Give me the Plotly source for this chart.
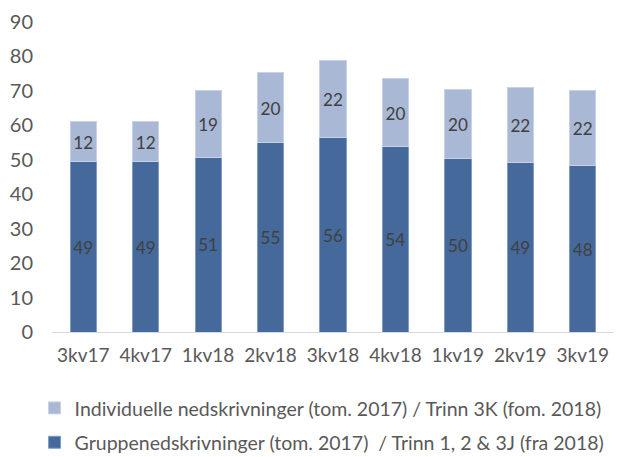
import plotly.graph_objects as go

quarters = ["3kv17", "4kv17", "1kv18", "2kv18", "3kv18", "4kv18", "1kv19", "2kv19", "3kv19"]
gruppe = [49.4, 49.4, 50.8, 55.0, 56.4, 53.8, 50.3, 49.2, 48.2]
individuelle = [11.6, 11.6, 19.2, 20.2, 22.4, 19.7, 20.1, 21.7, 21.8]

name_gruppe = "Gruppenedskrivninger (tom. 2017)  / Trinn 1, 2 & 3J (fra 2018)"
name_indiv = "Individuelle nedskrivninger (tom. 2017) / Trinn 3K (fom. 2018)"

DARK = "#44699a"
LIGHT = "#a9b8d5"
TEXT = "#404040"
FONT = "Lato, Carlito, Calibri, sans-serif"

fig = go.Figure()
fig.add_trace(go.Bar(
    x=quarters, y=gruppe, name=name_gruppe, legendgroup="g", legendrank=2,
    marker=dict(color=DARK, line=dict(color="#7f9cc4", width=1)),
    texttemplate="%{y:.0f}", textposition="inside", insidetextanchor="middle",
    textfont=dict(color=TEXT, size=20, family=FONT),
))
fig.add_trace(go.Bar(
    x=quarters, y=individuelle, name=name_indiv, legendgroup="i", legendrank=1,
    marker=dict(color=LIGHT, line=dict(color="#c8d2e6", width=1)),
    texttemplate="%{y:.0f}", textposition="inside", insidetextanchor="middle",
    textfont=dict(color=TEXT, size=20, family=FONT),
))

fig.update_layout(
    barmode="stack",
    bargap=0.58,
    width=617, height=457,
    paper_bgcolor="white", plot_bgcolor="white",
    margin=dict(l=52, r=3, t=22, b=125, autoexpand=False),
    font=dict(family=FONT, color="#595959", size=18),
    uniformtext=dict(mode="show", minsize=10),
    xaxis=dict(
        showgrid=False, showline=True, linecolor="#d9d9d9", linewidth=1,
        ticks="", tickfont=dict(size=19, color="#595959"),
        ticklabelstandoff=6,
    ),
    yaxis=dict(
        range=[0, 90], dtick=10, showgrid=False, zeroline=False,
        showline=False, ticks="", tickfont=dict(size=20, color="#595959"),
        ticklabelstandoff=18,
    ),
    legend=dict(
        orientation="v", traceorder="grouped",
        x=-0.031, xanchor="left", y=-0.183, yanchor="top",
        font=dict(size=19.5, color="#595959"),
        tracegroupgap=6,
        bgcolor="rgba(0,0,0,0)",
    ),
    showlegend=True,
)

# page body has a default 8px margin; drop it so the figure sits at the window corner
fig.write_html(
    "out.html",
    config={"displayModeBar": False},
    post_script="document.body.style.margin='0';",
)
